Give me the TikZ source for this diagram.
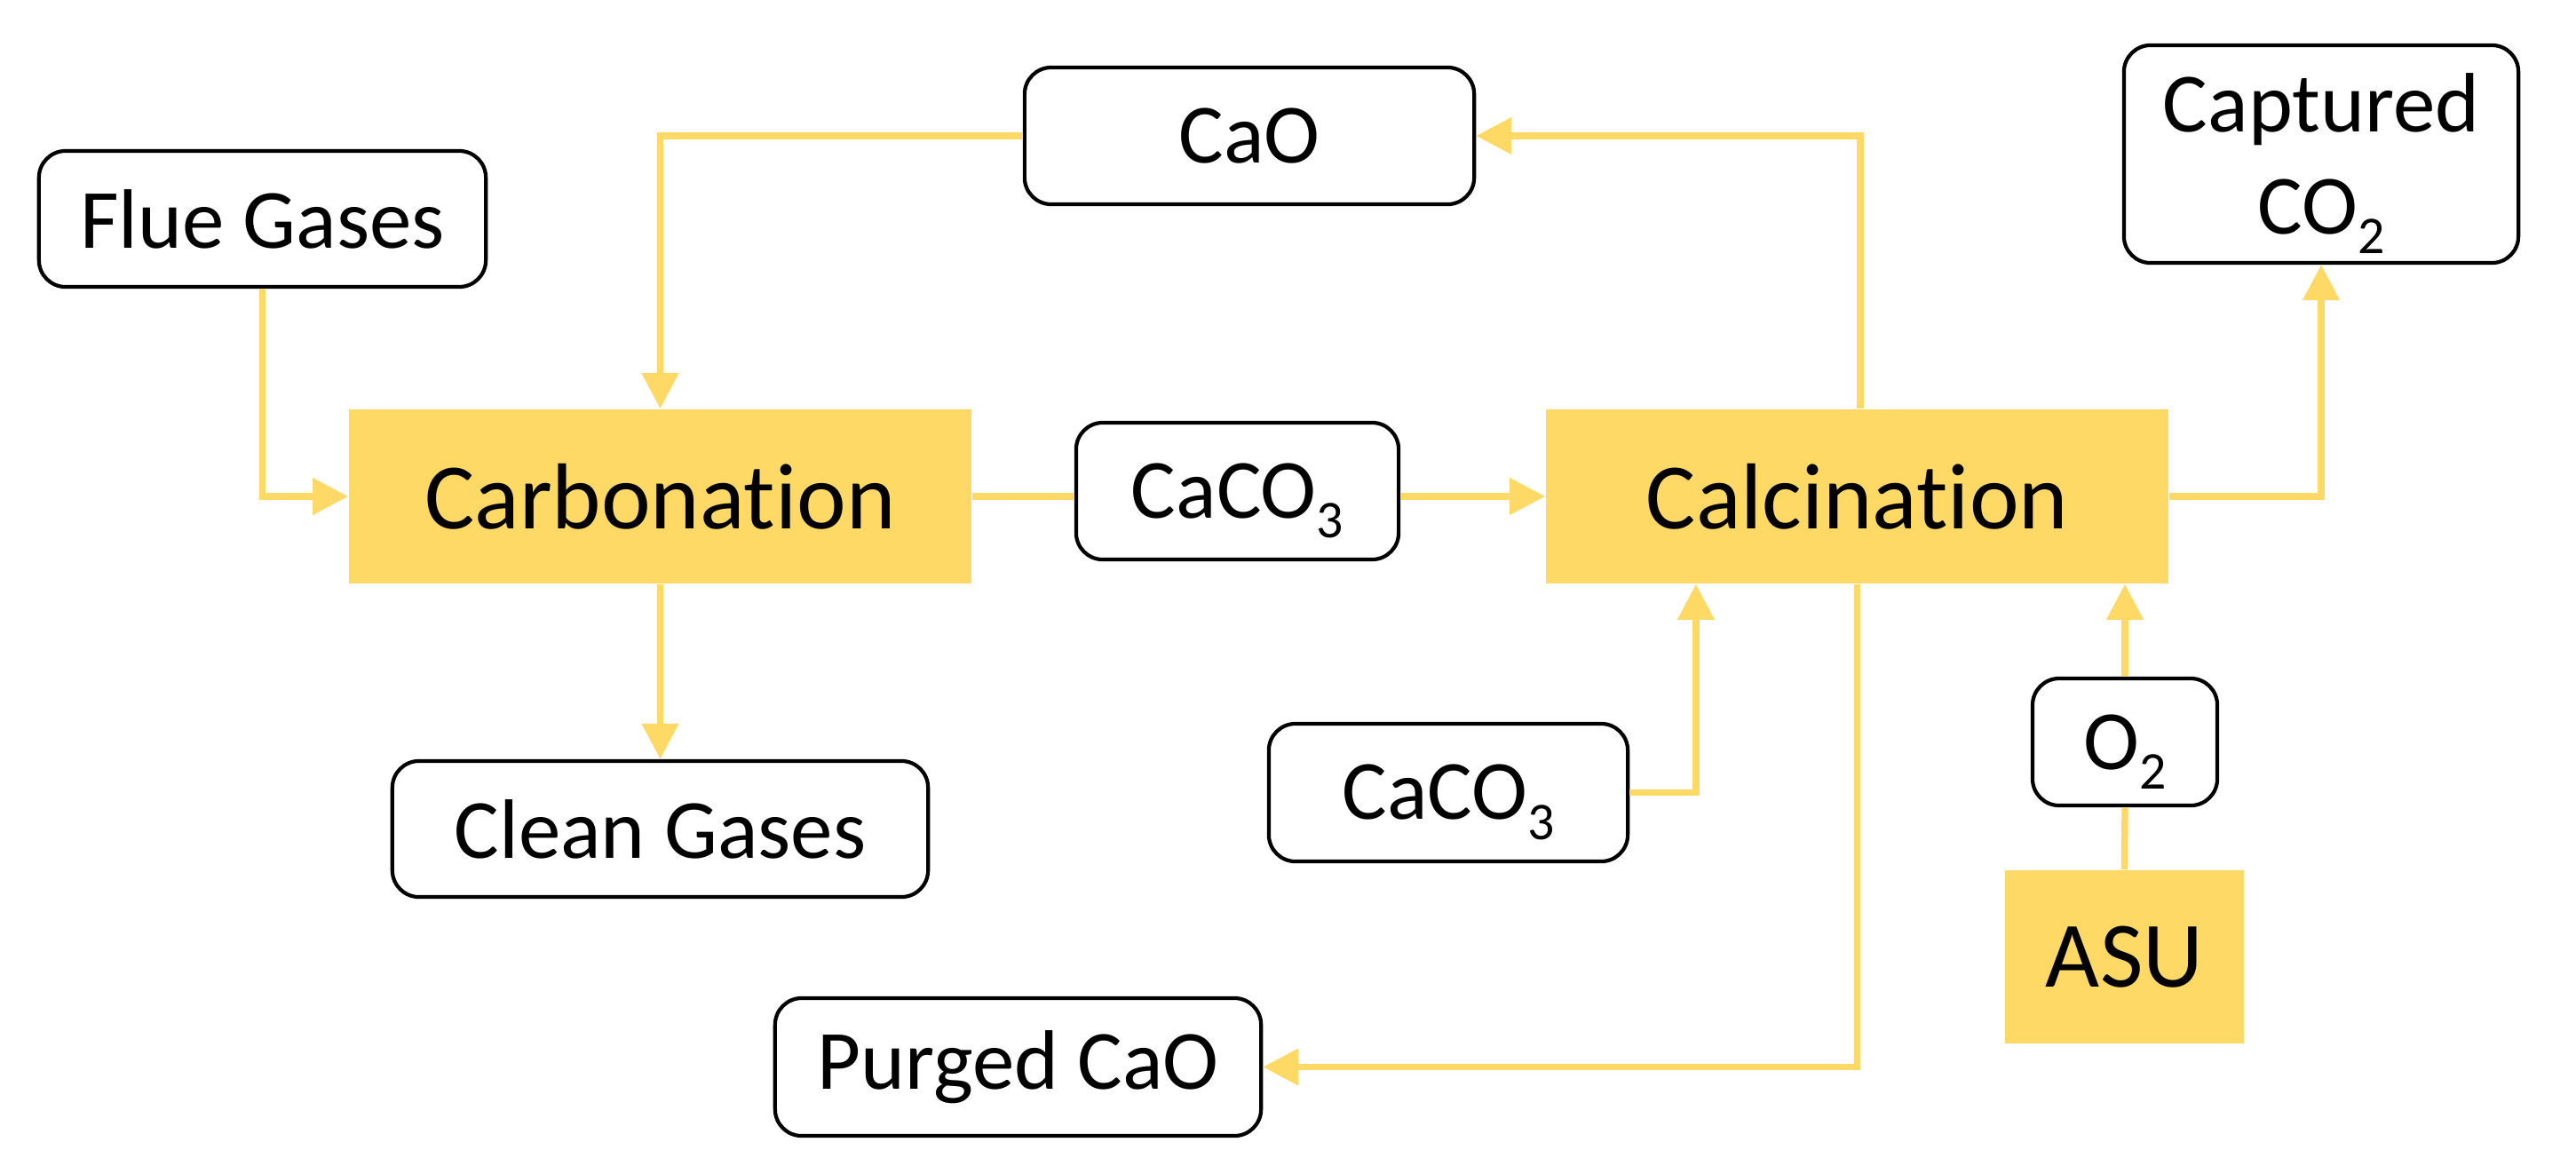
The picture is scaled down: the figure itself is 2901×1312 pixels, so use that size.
\documentclass[tikz,border=0pt]{standalone}
\usepackage{fontspec}
\setmainfont{Carlito}[Ligatures=NoCommon]
\usetikzlibrary{arrows.meta}
\definecolor{gold}{HTML}{FFD966}
\newcommand\chemsub[1]{\raisebox{-6.4pt}[0pt][0pt]{\fontsize{17}{17}\selectfont #1}}
\tikzset{
  every node/.style={inner sep=0pt, align=center},
  stream/.style={draw=black, line width=1.2pt, rounded corners=0.3cm, fill=white,
    font=\fontsize{27}{32.5}\selectfont},
  unit/.style={fill=gold, font=\fontsize{30}{36}\selectfont},
  flow/.style={draw=gold, line width=2.1pt, -{Triangle[length=0.4cm,width=0.4cm]}},
  plainflow/.style={draw=gold, line width=2.1pt},
}
\begin{document}
\begin{tikzpicture}[x=0.01cm, y=-0.01cm]
\useasboundingbox (0,0) rectangle (2901,1312);
% units
\node[unit, minimum width=7.01cm, minimum height=1.96cm] (carb) at (743.5,559) {Carbonation};
\node[unit, minimum width=7.01cm, minimum height=1.96cm] (calc) at (2091.5,559) {Calcination};
\node[unit, minimum width=2.69cm, minimum height=1.95cm] (asu) at (2392.5,1077.5) {ASU};
% streams
\node[stream, minimum width=5.03cm, minimum height=1.53cm] (flue) at (295.5,246.5) {Flue Gases};
\node[stream, minimum width=5.06cm, minimum height=1.54cm] (cao) at (1407,153) {CaO};
\node[stream, minimum width=4.44cm, minimum height=2.45cm] (co2) at (2614,173.5) {Captured\\CO\chemsub{2}};
\node[stream, minimum width=3.63cm, minimum height=1.54cm] (caco3m) at (1393.5,553) {CaCO\chemsub{3}};
\node[stream, minimum width=6.03cm, minimum height=1.53cm] (clean) at (743.5,933.5) {Clean Gases};
\node[stream, minimum width=4.04cm, minimum height=1.55cm] (caco3l) at (1631,892.5) {CaCO\chemsub{3}};
\node[stream, minimum width=2.08cm, minimum height=1.43cm] (o2) at (2393,835.5) {O\chemsub{2}};
\node[stream, minimum width=5.47cm, minimum height=1.55cm] (purged) at (1146.5,1201.5) {Purged CaO};
% connectors
\draw[flow] (flue.south) |- (carb.west);
\draw[flow] (cao.west) -| (carb.north);
\draw[plainflow] (carb.east) -- (caco3m.west |- carb.east);
\draw[flow] (caco3m.east |- calc.west) -- (calc.west);
\draw[flow] ([xshift=0.035cm]calc.north) |- (cao.east);
\draw[flow] (calc.east) -| (co2.south);
\draw[flow] (carb.south) -- (clean.north);
\draw[flow] (caco3l.east) -| ([xshift=-1.815cm]calc.south);
\draw[flow] (calc.south) |- (purged.east);
\draw[plainflow] (asu.north) -- (o2.south);
\draw[flow] (o2.north) -- (o2.north |- calc.south);
\end{tikzpicture}
\end{document}
